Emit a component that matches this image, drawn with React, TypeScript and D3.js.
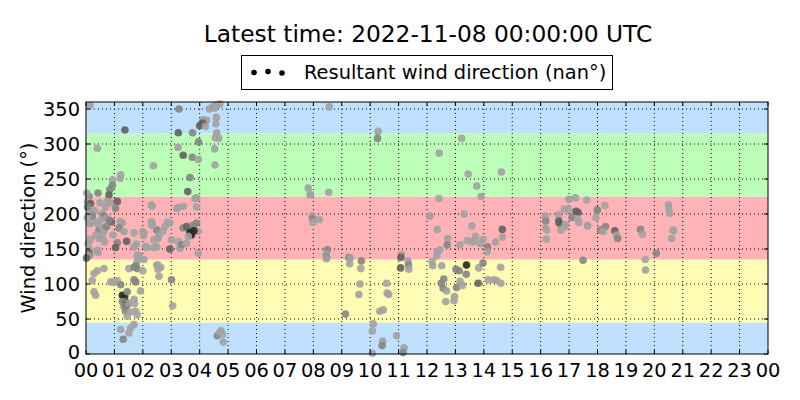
import React from 'react';
import * as d3 from 'd3';

// [hour of day, direction (deg), grey tone 0..3]
type Obs = [number, number, number];

const nightObs: Obs[] = [
  [0.14, 355, 0], [0.40, 294, 0], [1.37, 320, 2],
  [2.37, 269, 0], [1.22, 256, 0], [1.20, 251, 0], [0.93, 249, 0], [0.93, 241, 1], [0.84, 235, 1],
  [0.81, 227, 2], [0.42, 230, 1], [0.11, 225, 1], [0.05, 218, 0], [0.16, 215, 2], [0.49, 216, 0],
  [0.75, 218, 0], [0.87, 216, 0], [1.10, 218, 2], [1.04, 208, 1], [0.69, 210, 0], [0.57, 201, 0],
  [0.63, 197, 1], [0.73, 194, 0], [0.89, 189, 2], [0.81, 191, 1], [0.16, 203, 0], [0.14, 186, 0],
  [0.28, 189, 0], [0.40, 187, 0], [0.52, 191, 0], [0.46, 177, 1], [0.57, 180, 0], [0.63, 175, 0],
  [0.57, 168, 0], [0.46, 165, 0], [0.16, 164, 0], [0.12, 141, 1], [0.14, 149, 0], [0.40, 148, 0],
  [1.20, 189, 0], [1.28, 187, 0], [1.16, 180, 1], [1.34, 175, 0], [1.10, 159, 1], [1.04, 152, 2],
  [1.43, 161, 2], [1.69, 173, 0], [1.78, 157, 0], [1.69, 153, 0], [1.80, 141, 0], [1.86, 137, 0],
  [1.80, 132, 0], [1.75, 126, 1], [2.33, 211, 0], [2.30, 189, 0], [2.33, 187, 0], [2.49, 177, 1],
  [2.53, 165, 0], [2.39, 163, 0], [2.04, 173, 0], [2.02, 169, 0], [2.10, 154, 0], [2.13, 152, 0],
  [2.39, 152, 0], [2.49, 153, 0], [2.53, 127, 0], [2.63, 124, 0],
  [0.10, 144, 2], [0.42, 145, 0], [1.86, 141, 0], [2.04, 135, 0], [0.28, 115, 0], [0.40, 119, 0],
  [0.63, 122, 0], [0.22, 105, 0], [1.51, 122, 0], [1.69, 124, 1], [1.80, 122, 1], [2.00, 119, 0],
  [2.49, 127, 0], [2.53, 121, 0], [2.57, 111, 0], [0.87, 103, 0], [1.10, 105, 0], [0.99, 103, 0],
  [1.22, 99, 1], [1.69, 106, 1], [1.75, 103, 1], [0.28, 89, 0], [0.34, 84, 0], [1.28, 84, 3],
  [1.36, 82, 3], [1.39, 75, 2], [1.45, 89, 1], [1.28, 75, 1], [1.43, 70, 3], [1.34, 68, 1],
  [1.51, 72, 0], [1.69, 78, 0], [1.71, 72, 0], [1.92, 90, 0], [1.39, 61, 1], [1.57, 60, 0],
  [1.75, 61, 0], [1.80, 56, 0], [1.45, 54, 0], [1.69, 42, 0], [1.57, 37, 0], [1.51, 30, 0],
  [1.22, 35, 0], [1.31, 21, 1],
  [0.08, 158, 0], [0.08, 141, 0], [0.02, 137, 2], [0.30, 205, 0], [0.22, 197, 1], [0.35, 170, 0],
  [0.65, 160, 0], [0.05, 195, 0], [0.95, 170, 0], [0.72, 182, 1], [2.00, 175, 0], [2.31, 184, 0],
  [2.58, 170, 0], [2.70, 175, 0], [2.78, 182, 0], [2.86, 188, 0], [2.95, 187, 0], [2.95, 150, 2],
  [2.30, 213, 0], [0.03, 230, 0], [0.05, 210, 1],
];

const dawnObs: Obs[] = [
  [3.27, 350, 1], [3.25, 316, 2], [3.75, 316, 1], [3.24, 295, 0], [3.42, 284, 2], [3.74, 281, 1],
  [3.95, 278, 0], [3.96, 303, 1], [4.53, 293, 0], [4.54, 270, 0], [3.66, 252, 1], [3.58, 232, 2],
  [3.89, 223, 0], [3.89, 210, 0], [3.43, 211, 0], [3.24, 209, 0], [3.83, 222, 0], [3.19, 208, 0],
  [4.34, 350, 0], [4.46, 353, 0], [4.58, 355, 0], [4.71, 357, 0], [4.52, 351, 0], [4.62, 356, 0],
  [4.12, 335, 0], [4.18, 331, 0], [4.05, 328, 1], [4.00, 326, 2], [4.25, 334, 0], [4.59, 338, 0],
  [4.57, 329, 0], [4.55, 309, 0], [4.67, 308, 0], [4.60, 316, 0], [4.10, 330, 2], [4.20, 325, 0],
  [3.01, 163, 0], [3.25, 161, 0], [3.30, 151, 0], [3.36, 156, 1], [3.53, 158, 0], [3.42, 180, 1],
  [3.54, 182, 2], [3.66, 175, 2], [3.71, 170, 3], [3.66, 173, 3], [3.77, 184, 1], [3.89, 187, 1],
  [3.95, 175, 0], [3.95, 144, 0], [3.60, 168, 0], [3.80, 176, 3],
  [3.01, 106, 1], [3.05, 69, 0],
  [4.62, 26, 1], [4.71, 31, 0], [4.80, 28, 0], [4.83, 17, 0], [4.75, 33, 0],
];

const dayObs: Obs[] = [
  [8.56, 353, 0], [10.28, 318, 0], [10.26, 308, 1], [7.82, 237, 0], [7.90, 228, 0], [7.88, 227, 0],
  [8.54, 231, 0], [7.96, 197, 0], [7.97, 193, 1], [7.99, 188, 0], [8.21, 192, 0], [8.49, 149, 1],
  [8.44, 143, 0], [8.47, 138, 1], [8.46, 136, 0], [9.25, 138, 1], [9.31, 137, 0], [9.28, 129, 0],
  [9.69, 133, 1], [9.67, 122, 0], [9.64, 100, 0], [9.60, 85, 0], [9.13, 57, 1], [10.58, 101, 0],
  [10.60, 87, 0], [10.65, 85, 0], [10.34, 61, 0], [10.46, 63, 0], [10.11, 43, 0], [10.08, 33, 0],
  [10.93, 26, 0], [10.44, 18, 0], [10.42, 12, 1], [10.08, 1, 0], [11.19, 9, 0], [11.16, 2, 1],
  [11.10, 142, 0], [11.08, 138, 2], [11.33, 133, 0], [11.35, 127, 1], [11.36, 121, 0], [11.07, 123, 2],
];

const afternoonObs: Obs[] = [
  [12.10, 197, 0], [13.22, 308, 0], [12.43, 287, 0], [13.45, 257, 0], [14.62, 260, 0], [13.75, 240, 0],
  [13.90, 225, 0], [12.42, 222, 0], [12.08, 197, 0], [13.31, 200, 0], [12.36, 178, 0], [13.58, 183, 0],
  [14.65, 178, 2], [14.66, 167, 0], [12.73, 165, 0], [12.71, 156, 1], [12.45, 149, 0], [12.36, 146, 0],
  [12.34, 140, 0], [13.41, 162, 0], [13.59, 160, 0], [13.63, 161, 0], [13.71, 168, 0], [13.86, 158, 0],
  [13.98, 164, 0], [14.13, 153, 1], [14.12, 146, 0], [14.42, 160, 0], [13.16, 156, 0], [12.18, 132, 0],
  [12.20, 126, 0], [12.52, 126, 0], [13.02, 121, 1], [13.13, 119, 1], [13.39, 127, 3], [13.38, 114, 1],
  [13.82, 123, 0], [13.97, 130, 1], [14.59, 124, 0], [12.59, 107, 1], [12.50, 101, 1], [12.57, 94, 1],
  [12.69, 90, 0], [13.04, 95, 1], [13.25, 98, 0], [13.16, 104, 0], [13.80, 101, 2], [14.15, 106, 0],
  [14.35, 106, 0], [14.45, 105, 0], [14.60, 101, 0], [12.97, 82, 0], [12.95, 76, 0], [12.66, 75, 0],
  [16.17, 197, 0], [16.18, 190, 1], [16.17, 180, 0], [16.22, 177, 0], [16.20, 164, 0], [16.63, 199, 0],
  [16.64, 190, 2], [16.65, 187, 2], [16.71, 177, 0], [16.87, 182, 0], [16.87, 185, 0], [16.83, 207, 0],
  [16.99, 221, 0], [16.98, 207, 0], [17.22, 223, 0], [17.24, 204, 2], [17.32, 202, 2], [17.10, 195, 1],
  [17.30, 193, 0], [17.34, 188, 0], [17.62, 220, 0], [17.65, 184, 0], [17.65, 183, 0], [17.94, 195, 0],
  [18.00, 205, 0], [17.49, 134, 1],
];

const eveningObs: Obs[] = [
  [17.99, 206, 1], [18.26, 212, 0], [18.28, 182, 1], [18.10, 177, 1], [18.20, 175, 0], [18.61, 176, 2],
  [18.67, 170, 0], [18.71, 165, 1], [19.51, 178, 1], [19.58, 171, 0], [20.07, 144, 1], [19.68, 135, 0],
  [19.69, 120, 0], [20.50, 213, 0], [20.50, 208, 0], [20.54, 201, 0], [20.66, 177, 0], [20.68, 176, 0],
  [20.61, 165, 0],
];

// compass sectors behind the points: [from, to, colour]
const sectors: [number, number, string][] = [
  [0, 45, '#bfe1ff'],
  [45, 135, '#fffcb3'],
  [135, 225, '#ffb3b6'],
  [225, 315, '#bcffb8'],
  [315, 360, '#bfe1ff'],
];

const yTicks = [0, 50, 100, 150, 200, 250, 300, 350];
const xTicks = d3.range(0, 25);
const tones = ['#a2a2a2', '#858585', '#626262', '#282828'];

const W = 800;
const H = 400;
const margin = { top: 102, right: 32, bottom: 46, left: 86 };
const font = 'DejaVu Sans, sans-serif';
const fs = 19.4;

export default function App() {
  const x = d3.scaleLinear().domain([0, 24]).range([margin.left, W - margin.right]);
  const y = d3.scaleLinear().domain([0, 360]).range([H - margin.bottom, margin.top]);
  const [x0, x1] = x.range();
  const [y0, y1] = y.range();
  const all = [...nightObs, ...dawnObs, ...dayObs, ...afternoonObs, ...eveningObs];
  const tickLen = 4;

  return (
    <svg width={W} height={H} style={{ position: 'absolute', left: 0, top: 0, background: '#fff' }}>
      <text x={428} y={42} textAnchor="middle" fontFamily={font} fontSize={23.3} fill="#000">
        Latest time: 2022-11-08 00:00:00 UTC
      </text>

      {/* legend */}
      <rect x={241.5} y={55.5} width={371} height={34} fill="#fff" stroke="#000" />
      {[[254, 72.5], [268, 71.5], [282, 73]].map(([cx, cy], i) => (
        <circle key={i} cx={cx} cy={cy} r={2.8} fill="#000" />
      ))}
      <text x={304} y={78.5} fontFamily={font} fontSize={fs} fill="#000">
        Resultant wind direction (nan°)
      </text>

      {sectors.map(([a, b, c], i) => (
        <rect key={i} x={x0} y={y(b)} width={x1 - x0} height={y(a) - y(b)} fill={c} />
      ))}

      {/* grid */}
      {xTicks.slice(1, -1).map(t => (
        <line key={'gx' + t} x1={x(t)} x2={x(t)} y1={y0} y2={y1} stroke="#000" strokeWidth={1} strokeDasharray="1,3" />
      ))}
      {yTicks.slice(1).map(t => (
        <line key={'gy' + t} x1={x0} x2={x1} y1={y(t)} y2={y(t)} stroke="#000" strokeWidth={1} strokeDasharray="1,3" />
      ))}

      {all.map(([h, d, tone], i) => (
        <circle key={i} cx={x(h)} cy={y(d)} r={3.8} fill={tones[tone]} fillOpacity={0.9} />
      ))}

      {/* ticks on all four sides, pointing in */}
      {xTicks.map(t => (
        <g key={'tx' + t}>
          <line x1={x(t)} x2={x(t)} y1={y0} y2={y0 - tickLen} stroke="#000" />
          <line x1={x(t)} x2={x(t)} y1={y1} y2={y1 + tickLen} stroke="#000" />
          <text x={x(t)} y={y0 + 22.5} textAnchor="middle" fontFamily={font} fontSize={fs} fill="#000">
            {String(t % 24).padStart(2, '0')}
          </text>
        </g>
      ))}
      {yTicks.map(t => (
        <g key={'ty' + t}>
          <line x1={x0} x2={x0 + tickLen} y1={y(t)} y2={y(t)} stroke="#000" />
          <line x1={x1} x2={x1 - tickLen} y1={y(t)} y2={y(t)} stroke="#000" />
          <text x={x0 - 6} y={y(t) + (t === 0 ? 5 : 6.5)} textAnchor="end" fontFamily={font} fontSize={fs} fill="#000">
            {t}
          </text>
        </g>
      ))}

      <rect x={x0} y={y1} width={x1 - x0} height={y0 - y1} fill="none" stroke="#000" strokeWidth={1} />

      <text
        transform={`translate(35,${(y0 + y1) / 2}) rotate(-90)`}
        textAnchor="middle"
        fontFamily={font}
        fontSize={fs}
        fill="#000"
      >
        Wind direction (°)
      </text>
    </svg>
  );
}
